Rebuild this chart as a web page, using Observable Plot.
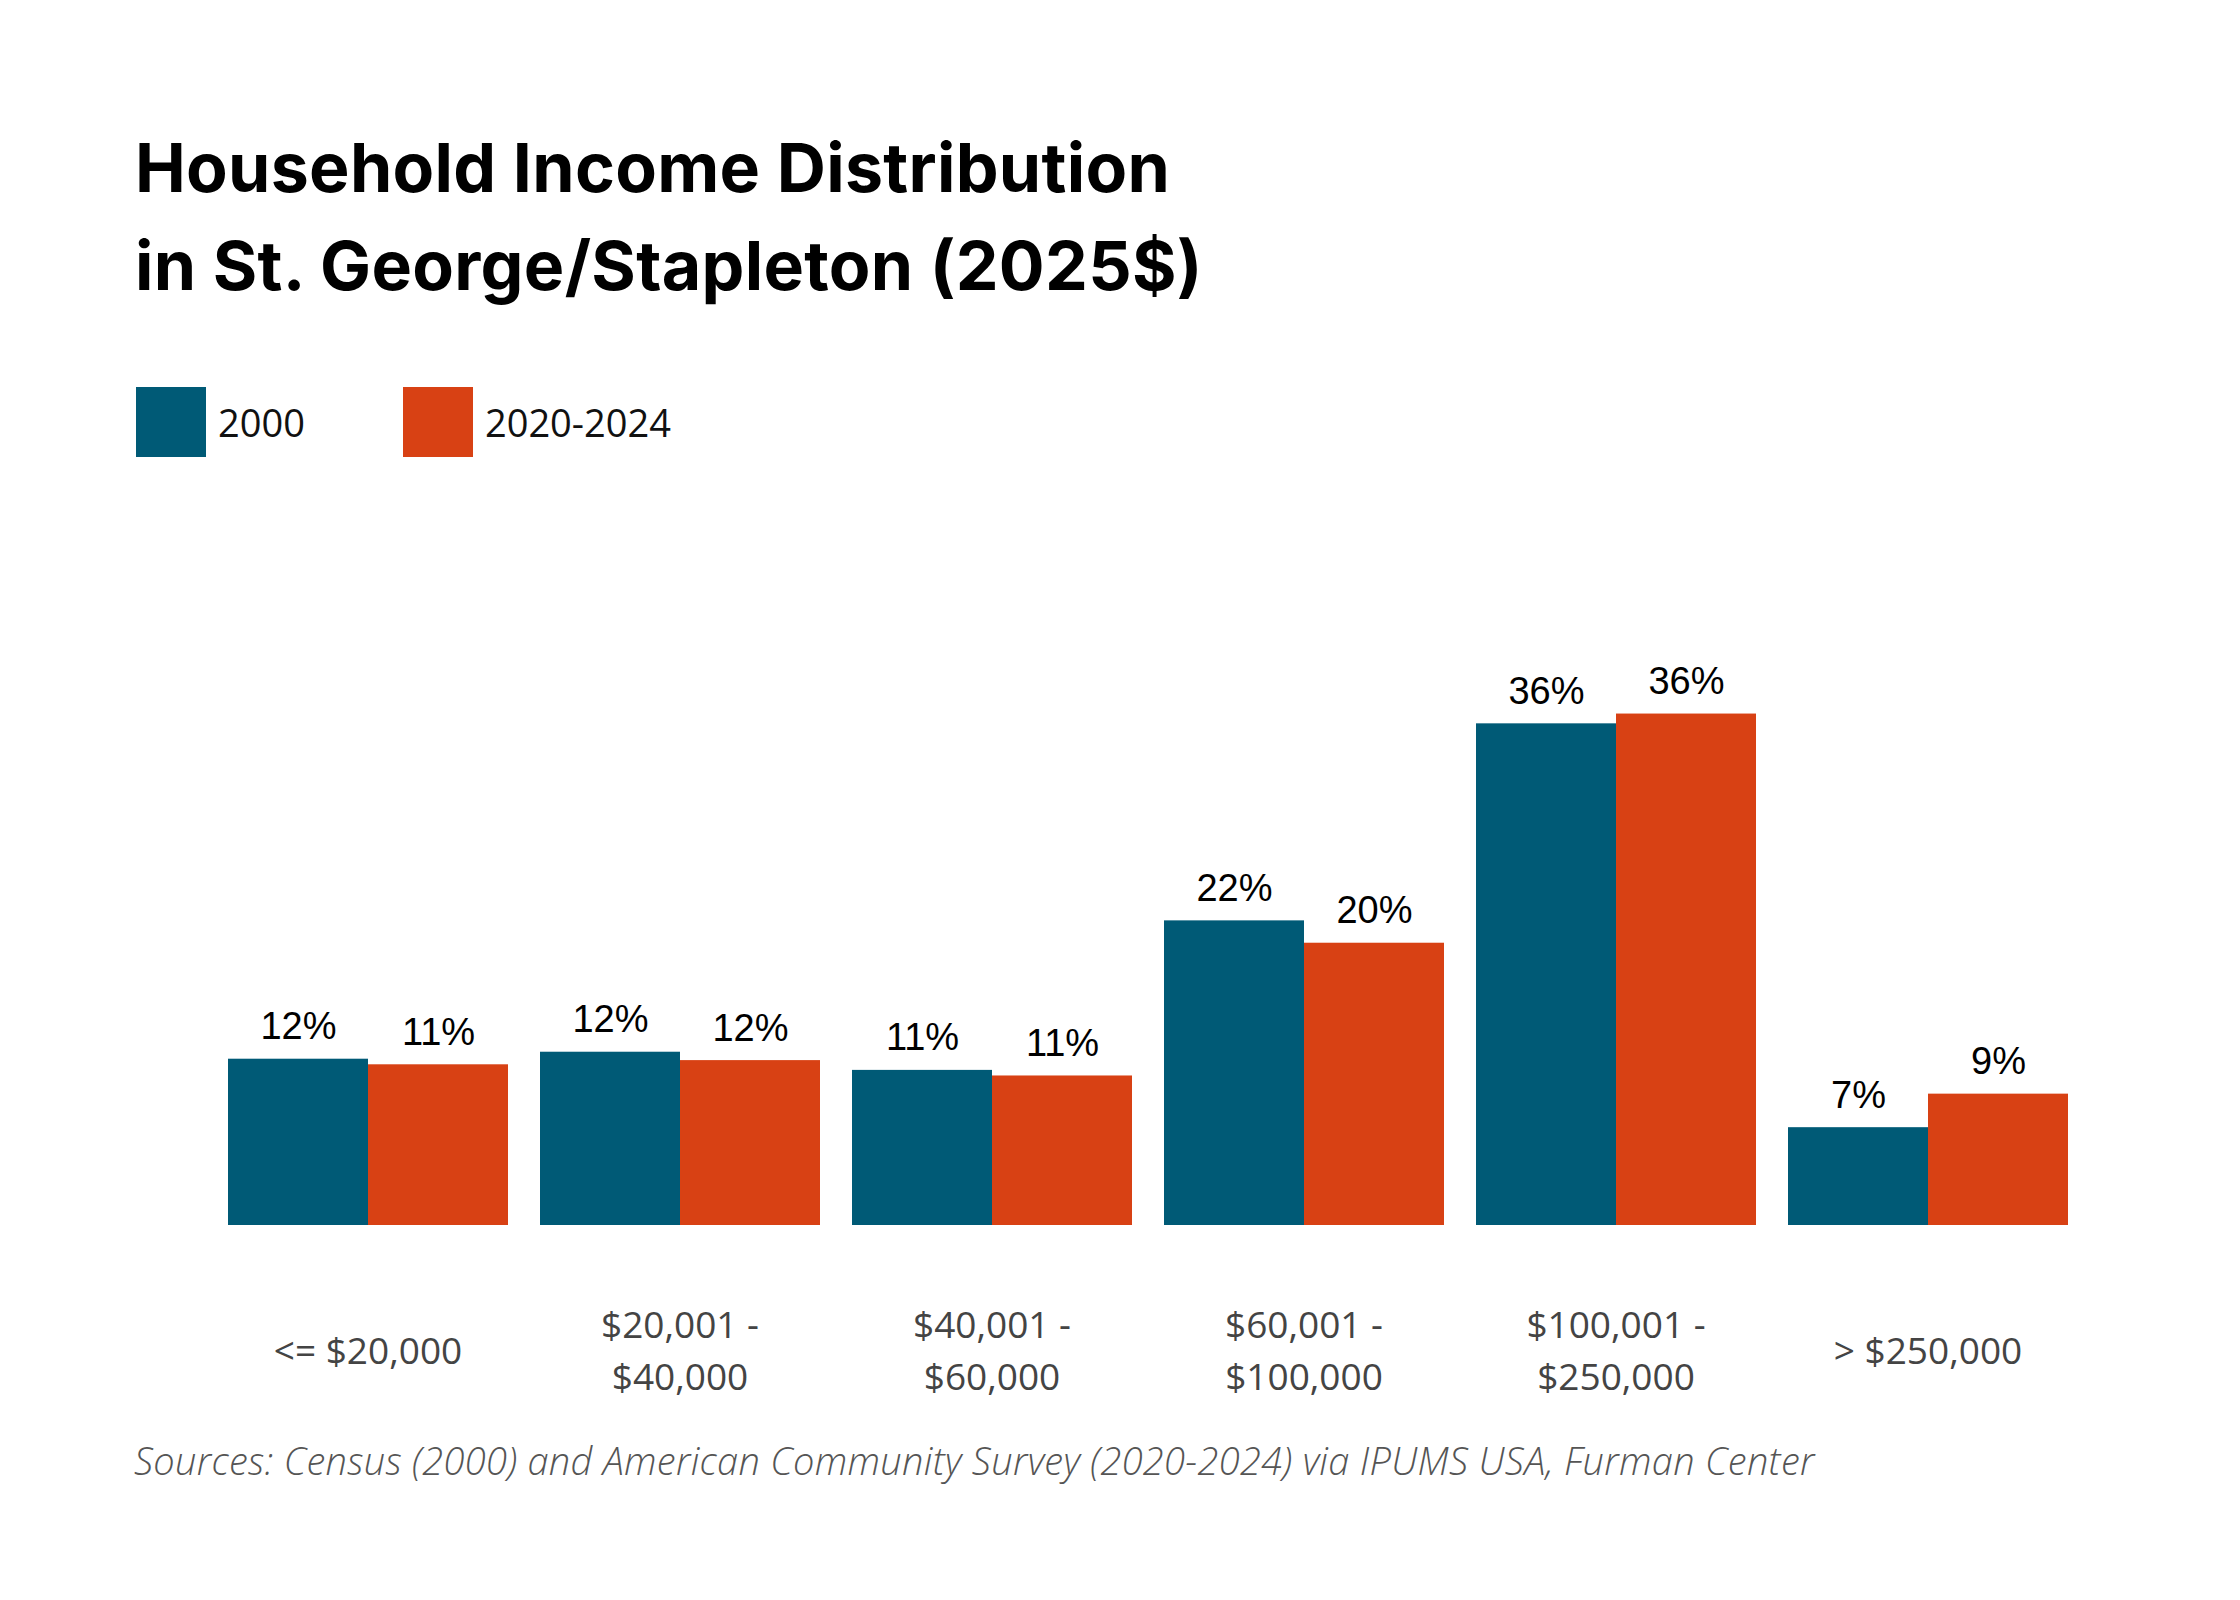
<!DOCTYPE html>
<html><head><meta charset="utf-8">
<script src="https://cdn.jsdelivr.net/npm/d3@7"></script>
<script src="https://cdn.jsdelivr.net/npm/@observablehq/plot@0.6"></script>
<style>
body{margin:0;background:#fff;width:2240px;height:1600px;position:relative;overflow:hidden;font-family:"Open Sans",sans-serif}
#title{position:absolute;left:135px;top:118px;font-family:Inter,sans-serif;font-weight:700;font-size:68px;line-height:98px;color:#000;letter-spacing:0.3px}
#legend{position:absolute;left:136px;top:387px;display:flex;align-items:center;font-family:"Open Sans";font-size:38px;color:#111}
.sw{width:70px;height:70px;display:inline-block;margin-right:12px}
#chart{position:absolute;left:0;top:578px}
#src{position:absolute;left:134px;top:1434px;font-family:"Open Sans";font-style:italic;font-weight:300;font-size:38px;color:#555;letter-spacing:0.3px}
</style></head><body>
<div id="title">Household Income Distribution<br>in St. George/Stapleton (2025$)</div>
<div id="legend"><span class="sw" style="background:#005a76"></span><span style="margin-right:98px">2000</span><span class="sw" style="background:#d84114"></span><span>2020-2024</span></div>
<div id="chart"></div>
<div id="src">Sources: Census (2000) and American Community Survey (2020-2024) via IPUMS USA, Furman Center</div>
<script>
const categories = ["<= $20,000","$20,001 -\n$40,000","$40,001 -\n$60,000","$60,001 -\n$100,000","$100,001 -\n$250,000","> $250,000"];
const series = ["2000","2020-2024"];
const values2000 = [11.9,12.4,11.1,21.8,35.9,7.0];
const values2020 = [11.5,11.8,10.7,20.2,36.6,9.4];
const labels2000 = ["12%","12%","11%","22%","36%","7%"];
const labels2020 = ["11%","12%","11%","20%","36%","9%"];
const colors = ["#005a76","#d84114"];
const data = [];
categories.forEach((c,i)=>{
  data.push({cat:c,s:series[0],v:values2000[i],l:labels2000[i]});
  data.push({cat:c,s:series[1],v:values2020[i],l:labels2020[i]});
});
const plot = Plot.plot({
  width:2240, height:820,
  marginLeft:225, marginRight:170, marginTop:0, marginBottom:173,
  fx:{domain:categories, paddingInner:0.1, paddingOuter:0, axis:null},
  x:{domain:series, padding:0, axis:null},
  y:{domain:[0,46.3], axis:null},
  color:{domain:series, range:colors},
  marks:[
    Plot.barY(data,{fx:"cat",x:"s",y:"v",fill:"s"}),
    Plot.text(data,{fx:"cat",x:"s",y:"v",text:"l",dy:-20,fontSize:38,fill:"#000",fontFamily:"Liberation Sans",lineAnchor:"bottom"}),
    Plot.text(categories,{fx:d=>d,text:d=>d,frameAnchor:"bottom",dy:122,lineAnchor:"middle",lineHeight:1.4,fontSize:37,fill:"#444",fontFamily:"Open Sans",letterSpacing:"0.5px"})
  ]
});
plot.style.overflow="visible";
document.getElementById("chart").appendChild(plot);
</script>
</body></html>
